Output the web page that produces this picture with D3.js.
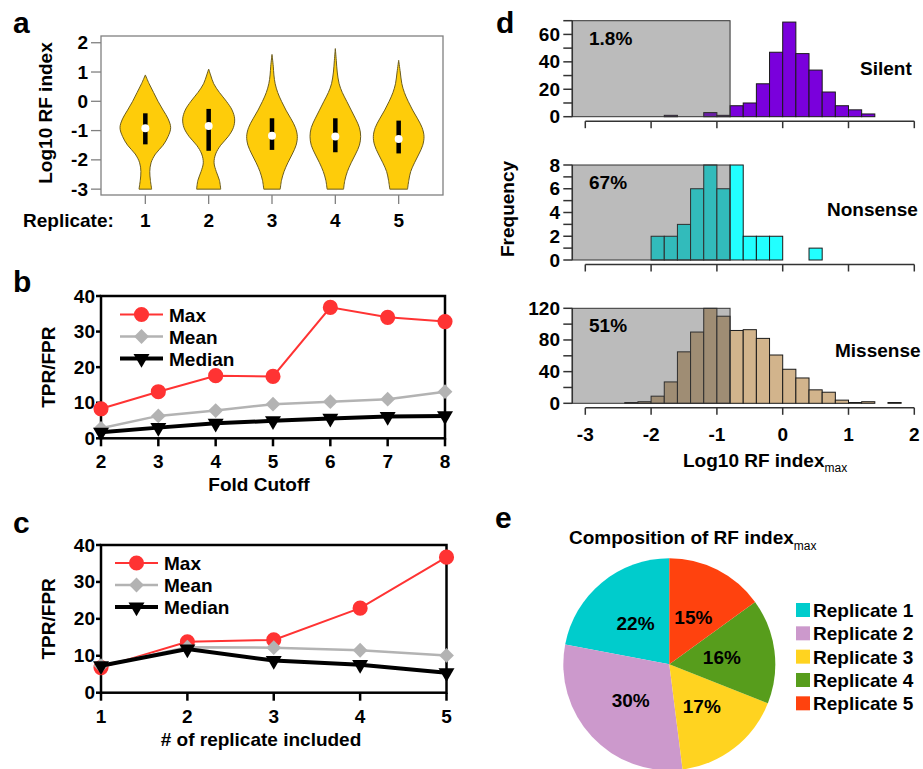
<!DOCTYPE html>
<html lang="en">
<head>
<meta charset="UTF-8">
<title>RF index figure</title>
<script src="https://d3js.org/d3.v7.min.js"></script>
<style>
  body { margin: 0; background: #fff; }
  svg { display: block; font-family: 'Liberation Sans', Arial, sans-serif; font-weight: bold; fill: #000; }
  .lbl { font-size: 19px; }
  .letter { font-size: 30px; }
</style>
</head>
<body>
<svg id="fig" width="923" height="769"></svg>
<script>
// ---------- data ----------
// panel a: violin outlines, [log10 RF index, half width in replicate units]
const replicates = [1, 2, 3, 4, 5];
const violin1 = [[-3, 0.10], [-2.7, 0.08], [-2.4, 0.07], [-2.1, 0.09], [-1.8, 0.16], [-1.5, 0.28], [-1.2, 0.36], [-0.9, 0.40], [-0.6, 0.36], [-0.3, 0.28], [0, 0.20], [0.3, 0.13], [0.6, 0.06], [0.9, 0]];
const violin2 = [[-3, 0.19], [-2.7, 0.17], [-2.4, 0.12], [-2.1, 0.085], [-1.8, 0.11], [-1.5, 0.19], [-1.2, 0.31], [-0.9, 0.39], [-0.6, 0.41], [-0.3, 0.37], [0, 0.28], [0.3, 0.17], [0.6, 0.08], [0.9, 0.03], [1.1, 0]];
const violin3 = [[-3, 0.13], [-2.7, 0.15], [-2.4, 0.19], [-2.1, 0.25], [-1.8, 0.32], [-1.5, 0.38], [-1.2, 0.40], [-0.9, 0.37], [-0.6, 0.30], [-0.3, 0.22], [0, 0.15], [0.3, 0.09], [0.6, 0.05], [0.9, 0.03], [1.2, 0.02], [1.6, 0]];
const violin4 = [[-3, 0.13], [-2.7, 0.15], [-2.4, 0.19], [-2.1, 0.25], [-1.8, 0.32], [-1.5, 0.38], [-1.2, 0.40], [-0.9, 0.38], [-0.6, 0.32], [-0.3, 0.25], [0, 0.18], [0.3, 0.11], [0.6, 0.06], [1.0, 0.03], [1.4, 0.015], [1.8, 0]];
const violin5 = [[-3, 0.14], [-2.7, 0.16], [-2.4, 0.19], [-2.1, 0.25], [-1.8, 0.32], [-1.5, 0.38], [-1.2, 0.40], [-0.9, 0.37], [-0.6, 0.30], [-0.3, 0.22], [0, 0.15], [0.3, 0.09], [0.6, 0.05], [1.0, 0.025], [1.4, 0]];
const violinQ1 = [-1.47, -1.69, -1.66, -1.74, -1.78];
const violinQ3 = [-0.41, -0.26, -0.58, -0.58, -0.66];
const violinMedian = [-0.92, -0.84, -1.18, -1.20, -1.29];

// panel b
const foldCutoff = [2, 3, 4, 5, 6, 7, 8];
const bMax = [8.3, 13.1, 17.6, 17.4, 36.8, 34.0, 32.8];
const bMean = [2.8, 6.3, 7.8, 9.6, 10.3, 11.0, 13.1];
const bMedian = [1.7, 3.0, 4.2, 4.9, 5.6, 6.1, 6.3];

// panel c
const replicatesIncluded = [1, 2, 3, 4, 5];
const cMax = [6.8, 13.8, 14.3, 22.9, 36.7];
const cMean = [7.3, 12.3, 12.2, 11.5, 10.1];
const cMedian = [7.3, 11.8, 8.7, 7.6, 5.4];

// panel d: histogram counts, bins of 0.2 starting at the given value
const binWidth = 0.2;
const silentStart = -1.8;
const silentCounts = [1, 0, 0, 3, 1, 8, 10, 24, 47, 69, 46, 34, 18, 8, 5, 2];
const nonsenseStart = -2.0;
const nonsenseCounts = [2, 2, 3, 6, 8, 6, 8, 2, 2, 2, 0, 0, 1];
const missenseStart = -2.4;
const missenseCounts = [1, 2, 9, 27, 65, 90, 120, 110, 92, 93, 82, 61, 43, 32, 17, 14, 4, 1, 2, 0, 1];
const histXTicks = [-3, -2, -1, 0, 1, 2];

// panel e
const pieNames = ["Replicate 1", "Replicate 2", "Replicate 3", "Replicate 4", "Replicate 5"];
const pieShares = [22, 30, 17, 16, 15];
const pieColors = ["#00cccc", "#cc99cc", "#ffd320", "#579d1c", "#ff420e"];

// ---------- drawing ----------
const svg = d3.select("#fig");

// panel letters
[["a", 13, 33], ["b", 13, 292], ["c", 13, 533], ["d", 496, 33], ["e", 495, 528]].forEach(([t, x, y]) => {
  svg.append("text").attr("class", "letter").attr("x", x).attr("y", y).text(t);
});

// ===== panel a =====
const aX = d3.scaleLinear().domain([0.3, 5.7]).range([101, 443]);
const aY = d3.scaleLinear().domain([-3.2, 2.23]).range([195, 36]);
const ga = svg.append("g");

ga.append("rect").attr("x", 101).attr("y", 36).attr("width", 342).attr("height", 159)
  .attr("fill", "none").attr("stroke", "#808080").attr("stroke-width", 1.3);

aY.ticks(5).filter(v => v >= -3 && v <= 2).forEach(v => {
  ga.append("line").attr("x1", 91).attr("x2", 101).attr("y1", aY(v)).attr("y2", aY(v))
    .attr("stroke", "#808080").attr("stroke-width", 1.3);
  ga.append("text").attr("class", "lbl").attr("x", 88).attr("y", aY(v))
    .attr("text-anchor", "end").attr("dominant-baseline", "central").text(v);
});
replicates.forEach(r => {
  ga.append("line").attr("x1", aX(r)).attr("x2", aX(r)).attr("y1", 195).attr("y2", 204)
    .attr("stroke", "#808080").attr("stroke-width", 1.3);
  ga.append("text").attr("class", "lbl").attr("x", aX(r)).attr("y", 227)
    .attr("text-anchor", "middle").text(r);
});
ga.append("text").attr("class", "lbl").attr("x", 23).attr("y", 227).text("Replicate:");
ga.append("text").attr("class", "lbl").attr("transform", "translate(52,113) rotate(-90)")
  .attr("text-anchor", "middle").text("Log10 RF index");

const violins = [violin1, violin2, violin3, violin4, violin5];
violins.forEach((prof, i) => {
  const c = replicates[i];
  const area = d3.area().curve(d3.curveCatmullRom.alpha(0.5))
    .y(d => aY(d[0])).x0(d => aX(c - d[1])).x1(d => aX(c + d[1]));
  ga.append("path").attr("d", area(prof)).attr("fill", "#fecc0a")
    .attr("stroke", "#6b5c1e").attr("stroke-width", 1);
  ga.append("line").attr("x1", aX(c)).attr("x2", aX(c))
    .attr("y1", aY(violinQ1[i])).attr("y2", aY(violinQ3[i]))
    .attr("stroke", "#000").attr("stroke-width", 4.5);
  ga.append("circle").attr("cx", aX(c)).attr("cy", aY(violinMedian[i])).attr("r", 4)
    .attr("fill", "#fff");
});

// ===== panels b and c =====
const seriesStyle = {
  Max: { color: "#ff3333", width: 2, symbol: d3.symbolCircle, size: 180, rotate: 0 },
  Mean: { color: "#b3b3b3", width: 2.5, symbol: d3.symbolSquare, size: 110, rotate: 45 },
  Median: { color: "#000", width: 4, symbol: d3.symbolTriangle, size: 110, rotate: 180 }
};

function linePanel(cfg) {
  const x = d3.scaleLinear().domain(d3.extent(cfg.xs)).range([cfg.left, cfg.right]);
  const y = d3.scaleLinear().domain([0, 40]).range([cfg.bottom, cfg.top]);
  const g = svg.append("g");

  y.ticks(4).forEach(v => {
    g.append("line").attr("x1", cfg.left - 5).attr("x2", cfg.left).attr("y1", y(v)).attr("y2", y(v))
      .attr("stroke", "#000").attr("stroke-width", 2.5);
    g.append("text").attr("class", "lbl").attr("x", cfg.left - 6).attr("y", y(v))
      .attr("text-anchor", "end").attr("dominant-baseline", "central").text(v);
  });
  cfg.xs.forEach(v => {
    g.append("line").attr("x1", x(v)).attr("x2", x(v)).attr("y1", cfg.bottom).attr("y2", cfg.bottom + 8)
      .attr("stroke", "#000").attr("stroke-width", 2.5);
    g.append("text").attr("class", "lbl").attr("x", x(v)).attr("y", cfg.bottom + 30)
      .attr("text-anchor", "middle").text(v);
  });
  g.append("rect").attr("x", cfg.left).attr("y", cfg.top)
    .attr("width", cfg.right - cfg.left).attr("height", cfg.bottom - cfg.top)
    .attr("fill", "none").attr("stroke", "#000").attr("stroke-width", 2.5);

  g.append("text").attr("class", "lbl").attr("x", cfg.titleX).attr("y", cfg.titleY)
    .attr("text-anchor", "middle").text(cfg.xTitle);
  g.append("text").attr("class", "lbl")
    .attr("transform", `translate(55,${(cfg.top + cfg.bottom) / 2}) rotate(-90)`)
    .attr("text-anchor", "middle").text("TPR/FPR");

  cfg.series.forEach(([name, vals], k) => {
    const st = seriesStyle[name];
    const line = d3.line().x((d, i) => x(cfg.xs[i])).y(d => y(d));
    g.append("path").attr("d", line(vals)).attr("fill", "none")
      .attr("stroke", st.color).attr("stroke-width", st.width);
    const sym = d3.symbol().type(st.symbol).size(st.size);
    vals.forEach((v, i) => {
      g.append("path").attr("d", sym())
        .attr("transform", `translate(${x(cfg.xs[i])},${y(v)}) rotate(${st.rotate})`)
        .attr("fill", st.color);
    });
    // legend entry
    const ly = cfg.legendY + k * 22;
    g.append("line").attr("x1", cfg.legendX).attr("x2", cfg.legendX + 43).attr("y1", ly).attr("y2", ly)
      .attr("stroke", st.color).attr("stroke-width", st.width);
    g.append("path").attr("d", sym())
      .attr("transform", `translate(${cfg.legendX + 21.5},${ly}) rotate(${st.rotate})`)
      .attr("fill", st.color);
    g.append("text").attr("class", "lbl").attr("x", cfg.legendX + 49).attr("y", ly + 7).text(name);
  });
}

linePanel({
  xs: foldCutoff, left: 101, right: 445, top: 296, bottom: 438.3,
  series: [["Max", bMax], ["Mean", bMean], ["Median", bMedian]],
  legendX: 120, legendY: 314.5, xTitle: "Fold Cutoff", titleX: 259, titleY: 491
});
linePanel({
  xs: replicatesIncluded, left: 101, right: 446.5, top: 545, bottom: 692.7,
  series: [["Max", cMax], ["Mean", cMean], ["Median", cMedian]],
  legendX: 115, legendY: 563, xTitle: "# of replicate included", titleX: 261, titleY: 746
});

// ===== panel d =====
const hx = d3.scaleLinear().domain([-3, 2]).range([585.3, 914.3]);
const axisLeftX = 572.3;

function histogram(cfg) {
  const y = d3.scaleLinear().domain([0, cfg.yMax]).range([cfg.y0, cfg.top]);
  const g = svg.append("g");
  const bins = cfg.counts.map((n, i) => ({ x0: cfg.start + i * binWidth, x1: cfg.start + (i + 1) * binWidth, n }));

  g.selectAll("rect.bar").data(bins).join("rect").attr("class", "bar")
    .attr("x", d => hx(d.x0)).attr("width", d => hx(d.x1) - hx(d.x0))
    .attr("y", d => y(d.n)).attr("height", d => y(0) - y(d.n))
    .attr("fill", cfg.color).attr("stroke", "#1a1a1a").attr("stroke-width", 1);

  // shaded region below the cutoff
  g.append("rect").attr("x", axisLeftX).attr("y", y(cfg.yMax))
    .attr("width", hx(-0.8) - axisLeftX).attr("height", y(0) - y(cfg.yMax))
    .attr("fill", "#4e4e4e").attr("fill-opacity", 0.385)
    .attr("stroke", "#333").attr("stroke-width", 1);

  // y axis
  g.append("line").attr("x1", axisLeftX).attr("x2", axisLeftX).attr("y1", y(0)).attr("y2", y(cfg.yMax))
    .attr("stroke", "#333").attr("stroke-width", 1.5);
  d3.range(0, cfg.yMax + 1e-6, cfg.labelStep / 2).forEach(v => {
    g.append("line").attr("x1", axisLeftX - 9).attr("x2", axisLeftX).attr("y1", y(v)).attr("y2", y(v))
      .attr("stroke", "#333").attr("stroke-width", 1.5);
    if (Math.abs(v % cfg.labelStep) < 1e-6) {
      g.append("text").attr("class", "lbl").attr("x", 560).attr("y", y(v))
        .attr("text-anchor", "end").attr("dominant-baseline", "central").text(v);
    }
  });

  // x axis
  const ax = cfg.y0 + 4.5;
  g.append("line").attr("x1", hx(-3)).attr("x2", hx(2)).attr("y1", ax).attr("y2", ax)
    .attr("stroke", "#333").attr("stroke-width", 1.5);
  histXTicks.forEach(v => {
    g.append("line").attr("x1", hx(v)).attr("x2", hx(v)).attr("y1", ax).attr("y2", ax + 7)
      .attr("stroke", "#333").attr("stroke-width", 1.5);
    if (cfg.xLabels) {
      g.append("text").attr("class", "lbl").attr("x", hx(v)).attr("y", ax + 33)
        .attr("text-anchor", "middle").text(v);
    }
  });

  g.append("text").attr("class", "lbl").attr("x", 589).attr("y", cfg.pctY).text(cfg.pct);
  g.append("text").attr("class", "lbl").attr("x", cfg.nameX).attr("y", cfg.nameY).text(cfg.name);
}

histogram({ counts: silentCounts, start: silentStart, yMax: 70, labelStep: 20, y0: 116.7, top: 20.7,
  color: "#7a00dc", pct: "1.8%", pctY: 45, name: "Silent", nameX: 860, nameY: 75, xLabels: false });
histogram({ counts: nonsenseCounts, start: nonsenseStart, yMax: 8, labelStep: 2, y0: 260, top: 165,
  color: "#22ffff", pct: "67%", pctY: 189, name: "Nonsense", nameX: 827, nameY: 216, xLabels: false });
histogram({ counts: missenseCounts, start: missenseStart, yMax: 120, labelStep: 40, y0: 403.3, top: 308.3,
  color: "#d2b48c", pct: "51%", pctY: 331.5, name: "Missense", nameX: 835, nameY: 357, xLabels: true });

svg.append("text").attr("class", "lbl").attr("transform", "translate(514,209) rotate(-90)")
  .attr("text-anchor", "middle").text("Frequency");
const dTitle = svg.append("text").attr("class", "lbl").attr("x", 683).attr("y", 466.5);
dTitle.append("tspan").text("Log10 RF index");
dTitle.append("tspan").attr("dy", 5).attr("font-size", 12).attr("font-weight", "normal").text("max");

// ===== panel e =====
const pieCx = 669.3, pieCy = 664.3, pieR = 106;
const pie = d3.pie().sort(null).startAngle(2 * Math.PI).endAngle(0);
const arc = d3.arc().innerRadius(0).outerRadius(pieR);
const labelArc = d3.arc().innerRadius(53).outerRadius(53);
const ge = svg.append("g").attr("transform", `translate(${pieCx},${pieCy})`);
const slices = pie(pieShares);
ge.selectAll("path").data(slices).join("path")
  .attr("d", arc).attr("fill", (d, i) => pieColors[i]);
ge.selectAll("text").data(slices).join("text").attr("class", "lbl")
  .attr("transform", d => `translate(${labelArc.centroid(d)})`)
  .attr("text-anchor", "middle").attr("dominant-baseline", "central")
  .text(d => d.data + "%");

const eTitle = svg.append("text").attr("class", "lbl").attr("x", 569).attr("y", 544);
eTitle.append("tspan").text("Composition of RF index");
eTitle.append("tspan").attr("dy", 6).attr("font-size", 12).attr("font-weight", "normal").text("max");

pieNames.forEach((name, i) => {
  const cy = 610 + i * 23.33;
  svg.append("rect").attr("x", 796).attr("y", cy - 7).attr("width", 14).attr("height", 14)
    .attr("fill", pieColors[i]);
  svg.append("text").attr("class", "lbl").attr("x", 813).attr("y", cy + 7).text(name);
});
</script>
</body>
</html>
